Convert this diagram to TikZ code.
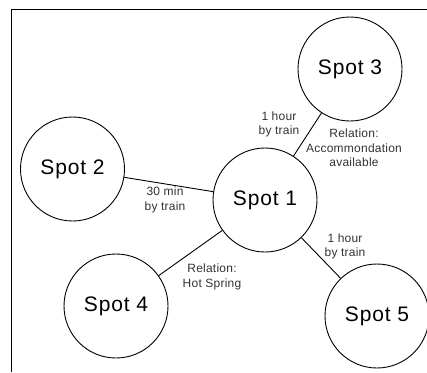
\documentclass[tikz,border=0pt]{standalone}
\usepackage{fontspec}
\setmainfont{Liberation Sans}
\newfontfamily\spotfont[LetterSpace=4]{Liberation Sans}
\newfontfamily\lblfont[LetterSpace=2]{Liberation Sans}
\begin{document}
\begin{tikzpicture}[x=1pt,y=-1pt,
  spot/.style={draw, circle, line width=0.9pt, minimum size=104pt, inner sep=0pt,
    font=\spotfont\fontsize{21}{23}\selectfont},
  link/.style={line width=0.9pt},
  lbl/.style={align=center, inner sep=0pt, text=black!80,
    font=\lblfont\fontsize{12}{14.5}\selectfont}]
\useasboundingbox (0,0) rectangle (427,372);
\coordinate (fb) at (11,372);
\coordinate (fc) at (11,9);
\coordinate (fr) at (427,9);
\draw[line width=0.8pt] (fb) -- (fc) -- (fr);
\node[spot] (s1) at (265,200) {Spot 1};
\node[spot] (s2) at (72.5,169) {Spot 2};
\node[spot] (s3) at (350,69) {Spot 3};
\node[spot] (s4) at (116,306) {Spot 4};
\node[spot] (s5) at (377,316) {Spot 5};
\draw[link] (s2) -- (s1);
\draw[link] (s3) -- (s1);
\draw[link] (s4) -- (s1);
\draw[link] (s5) -- (s1);
\node[lbl] (l13) at (279,124.5) {1 hour\\by train};
\node[lbl] (r3) at (354,148) {Relation:\\Accommondation\\available};
\node[lbl] (l12) at (165,200) {30 min\\by train};
\node[lbl] (r4) at (212,277) {Relation:\\Hot Spring};
\node[lbl] (l15) at (345,246.5) {1 hour\\by train};
\end{tikzpicture}
\end{document}
